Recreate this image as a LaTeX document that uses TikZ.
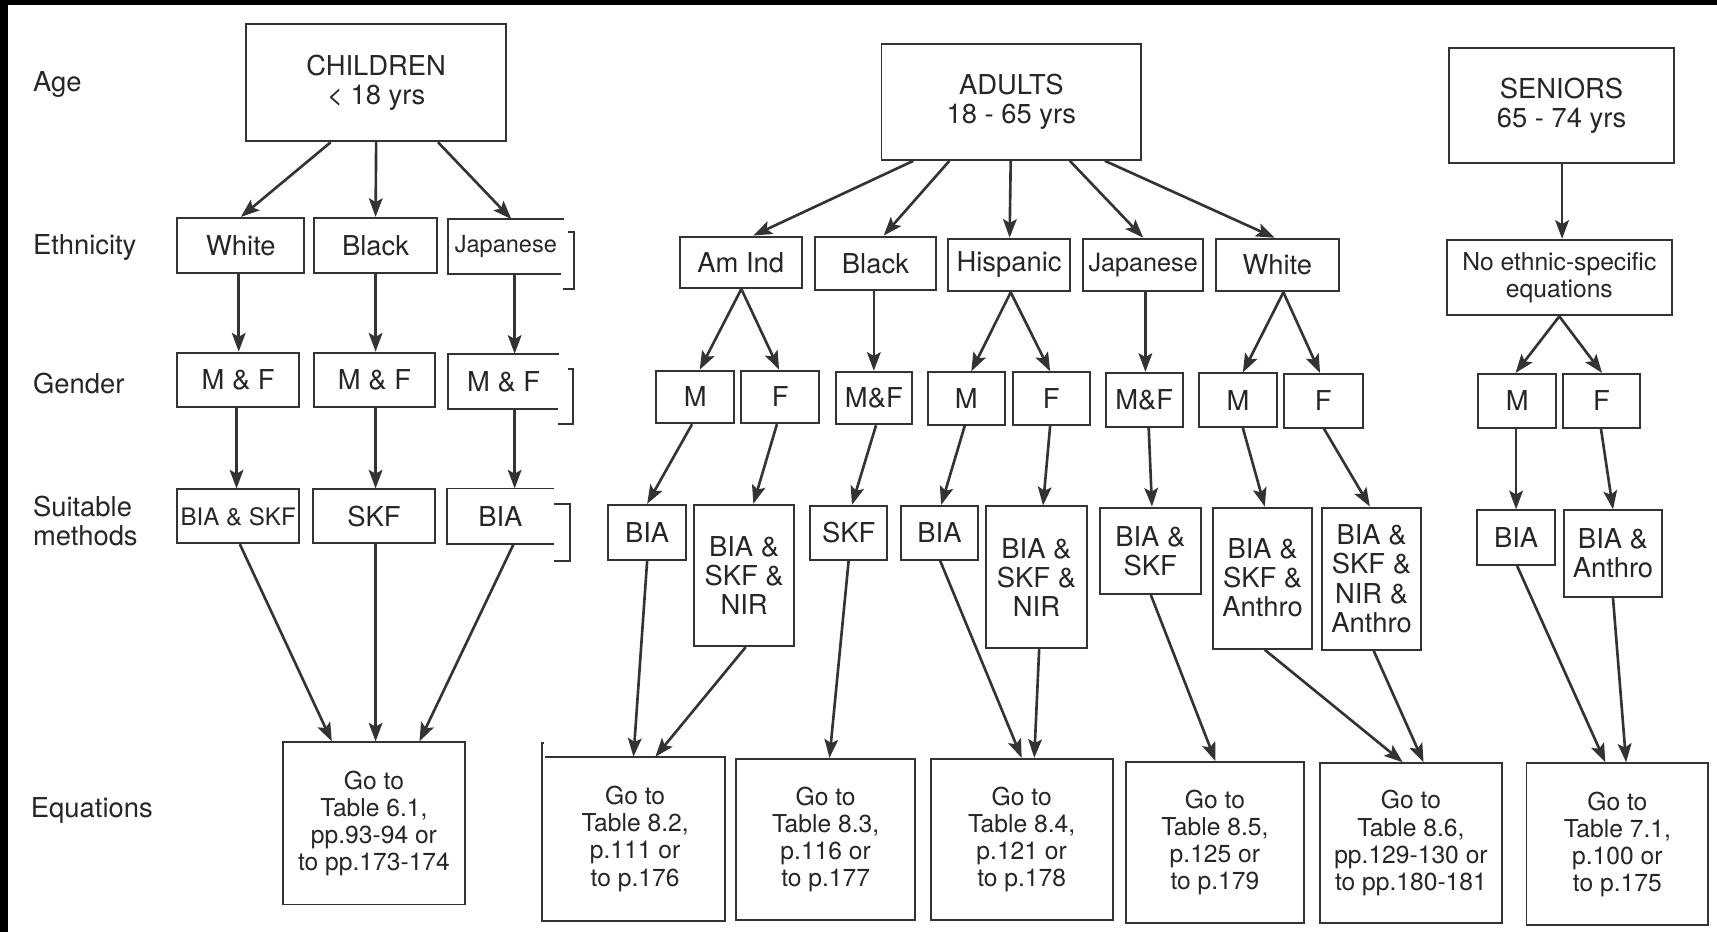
\documentclass[tikz,border=0pt]{standalone}
\usepackage{fontspec}
\setmainfont{TeX Gyre Heros}
\usetikzlibrary{arrows.meta}

\begin{document}
\begin{tikzpicture}[x=1pt, y=-1pt, >={Stealth[length=17pt,width=12.5pt,inset=3.5pt]},
    box/.style={draw=black!80, line width=1.8pt, align=center, inner sep=0pt, text=black!85, font=\fontsize{25}{26.5}\selectfont},
    nobox/.style={box, draw=none},
    eqbox/.style={box, font=\fontsize{22.5}{24.8}\selectfont},
    lbl/.style={anchor=west, align=left, inner sep=0pt, text=black!85, font=\fontsize{25}{26.5}\selectfont},
    arr/.style={->, draw=black!80, line width=2.4pt},
    edge/.style={draw=black!80, line width=1.8pt}]
    \useasboundingbox (0,0) rectangle (1568,851);
    % scan border
    \fill (0,0) rectangle (1568,5);
    \fill (0,0) rectangle (7,851);
    % row labels
    \node[lbl] (lage) at (30,77) {Age};
    \node[lbl] (leth) at (30,226) {Ethnicity};
    \node[lbl] (lgen) at (30,350) {Gender};
    \node[lbl] (lmet) at (30,476) {Suitable\\methods};
    \node[lbl] (lequ) at (28,740) {Equations};

    % children
    \node[box, minimum width=237, minimum height=107] (chd) at (343.5,75.5) {CHILDREN\\< 18 yrs};
    \node[box, minimum width=116, minimum height=50] (cwhi) at (220,224) {White};
    \node[box, minimum width=112, minimum height=50] (cbla) at (343,224) {Black};
    \node[nobox, minimum width=104, minimum height=48, font=\fontsize{21.5}{24}\selectfont] (cjap) at (462,225) {Japanese};
    \node[box, minimum width=111, minimum height=50] (cgwh) at (217.5,347) {M \& F};
    \node[box, minimum width=110, minimum height=50] (cgbl) at (342,347) {M \& F};
    \node[nobox, minimum width=100, minimum height=49] (cgja) at (460,348.5) {M \& F};
    \node[box, minimum width=111, minimum height=49, font=\fontsize{22}{24}\selectfont] (cmwh) at (217.5,471.5) {BIA \& SKF};
    \node[box, minimum width=111, minimum height=49] (cmbl) at (341.5,471.5) {SKF};
    \node[nobox, minimum width=96, minimum height=49] (cmja) at (457,471.5) {BIA};
    \node[eqbox, minimum width=167, minimum height=148] (ceq) at (341.5,752) {Go to\\Table 6.1,\\pp.93-94 or\\to pp.173-174};
    % open boxes of the Japanese column
    \draw[edge] (cjap.north east) -- (cjap.north west) -- (cjap.south west) -- ([xshift=-3pt]cjap.south east);
    \draw[edge] ([xshift=4pt,yshift=-12pt]cjap.north east) -- ([xshift=9pt,yshift=-12pt]cjap.north east)
        -- ([xshift=9pt,yshift=-14pt]cjap.south east) -- ([xshift=-1pt,yshift=-14pt]cjap.south east);
    \draw[edge] (cgja.north east) -- (cgja.north west) -- (cgja.south west) -- ([xshift=-1pt]cgja.south east);
    \draw[edge] ([xshift=8pt,yshift=-14pt]cgja.north east) -- ([xshift=12pt,yshift=-14pt]cgja.north east)
        -- ([xshift=12pt,yshift=-13pt]cgja.south east) -- ([xshift=-1pt,yshift=-13pt]cgja.south east);
    \draw[edge] (cmja.north east) -- (cmja.north west) -- (cmja.south west) -- (cmja.south east);
    \draw[edge] ([yshift=-14pt]cmja.north east) -- ([xshift=15pt,yshift=-14pt]cmja.north east)
        -- ([xshift=15pt,yshift=-15pt]cmja.south east) -- ([yshift=-15pt]cmja.south east);
    % children arrows
    \draw[arr] ([xshift=-41.5pt]chd.south) -- (cwhi.north);
    \draw[arr] (chd.south) -- (cbla.north);
    \draw[arr] ([xshift=56.5pt]chd.south) -- ([xshift=5pt]cjap.north);
    \draw[arr] ([xshift=-2pt]cwhi.south) -- ([xshift=0.5pt]cgwh.north);
    \draw[arr] (cbla.south) -- ([xshift=1pt]cgbl.north);
    \draw[arr] ([xshift=8pt]cjap.south) -- ([xshift=10pt]cgja.north);
    \draw[arr] ([xshift=-1.5pt]cgwh.south) -- ([xshift=-1.5pt]cmwh.north);
    \draw[arr] ([xshift=1pt]cgbl.south) -- ([xshift=1.5pt]cmbl.north);
    \draw[arr] ([xshift=10pt]cgja.south) -- ([xshift=13pt]cmja.north);
    \draw[arr] ([xshift=1.5pt]cmwh.south) -- ([xshift=-38.5pt]ceq.north);
    \draw[arr] ([xshift=1.5pt]cmbl.south) -- ([xshift=1.5pt]ceq.north);
    \draw[arr] ([xshift=12pt]cmja.south) -- ([xshift=41.5pt]ceq.north);

    % adults
    \node[box, minimum width=237, minimum height=106] (adu) at (923.5,93) {ADULTS\\18 - 65 yrs};
    \node[box, minimum width=111, minimum height=47] (aaid) at (676.5,239.5) {Am Ind};
    \node[box, minimum width=111, minimum height=49] (abla) at (799.5,240.5) {Black};
    \node[box, minimum width=111, minimum height=48] (ahis) at (921.5,242) {Hispanic};
    \node[box, minimum width=110, minimum height=48, font=\fontsize{23}{25}\selectfont] (ajap) at (1044,242) {Japanese};
    \node[box, minimum width=112, minimum height=48] (awhi) at (1166.5,242) {White};
    \node[box, minimum width=71, minimum height=48] (gaim) at (635,362.5) {M};
    \node[box, minimum width=71, minimum height=48] (gaif) at (712.5,362.5) {F};
    \node[box, minimum width=70, minimum height=48] (gbla) at (798,363.5) {M\&F};
    \node[box, minimum width=70, minimum height=48] (ghim) at (882.5,364) {M};
    \node[box, minimum width=70, minimum height=48] (ghif) at (960,364) {F};
    \node[box, minimum width=70, minimum height=49] (gjap) at (1045,365) {M\&F};
    \node[box, minimum width=71, minimum height=49] (gwhm) at (1130.5,365.5) {M};
    \node[box, minimum width=72, minimum height=49] (gwhf) at (1208.5,366) {F};
    \node[box, minimum width=71, minimum height=50] (maim) at (591,486) {BIA};
    \node[box, minimum width=91, minimum height=129] (maif) at (679.5,525.5) {BIA \&\\SKF \&\\NIR};
    \node[box, minimum width=70, minimum height=49] (mbla) at (775,486.5) {SKF};
    \node[box, minimum width=71, minimum height=49] (mhim) at (858,486.5) {BIA};
    \node[box, minimum width=93, minimum height=129] (mhif) at (946.5,527) {BIA \&\\SKF \&\\NIR};
    \node[box, minimum width=92, minimum height=79] (mjap) at (1050.5,503) {BIA \&\\SKF};
    \node[box, minimum width=90, minimum height=129] (mwhm) at (1153,528) {BIA \&\\SKF \&\\Anthro};
    \node[box, minimum width=91, minimum height=130] (mwhf) at (1252.5,528.5) {BIA \&\\SKF \&\\NIR \&\\Anthro};
    \node[nobox, eqbox, draw=none, minimum width=162, minimum height=148] (e82) at (580,766) {Go to\\Table 8.2,\\p.111 or\\to p.176};
    \node[eqbox, minimum width=164, minimum height=147] (e83) at (754,766.5) {Go to\\Table 8.3,\\p.116 or\\to p.177};
    \node[eqbox, minimum width=166, minimum height=147] (e84) at (933,766.5) {Go to\\Table 8.4,\\p.121 or\\to p.178};
    \node[eqbox, minimum width=163, minimum height=147] (e85) at (1109.5,769.5) {Go to\\Table 8.5,\\p.125 or\\to p.179};
    \node[eqbox, minimum width=167, minimum height=146] (e86) at (1288.5,770) {Go to\\Table 8.6,\\pp.129-130 or\\to pp.180-181};
    % box with shifted left edge
    \draw[edge] (e82.north west) -- (e82.north east) -- (e82.south east) -- ([xshift=-3pt]e82.south west)
        -- ([xshift=-3pt,yshift=13pt]e82.north west) -- ([xshift=-1pt,yshift=13pt]e82.north west);
    % adult arrows
    \draw[arr] ([xshift=-89.5pt]adu.south) -- ([xshift=11.5pt]aaid.north);
    \draw[arr] ([xshift=-56.5pt]adu.south) -- ([xshift=7.5pt]abla.north);
    \draw[arr] ([xshift=-0.5pt]adu.south) -- ([xshift=0.5pt]ahis.north);
    \draw[arr] ([xshift=53.5pt]adu.south) -- (ajap.north);
    \draw[arr] ([xshift=85.5pt]adu.south) -- ([xshift=-2.5pt]awhi.north);
    \draw[arr] ([xshift=0.5pt]aaid.south) -- ([xshift=4pt]gaim.north);
    \draw[arr] ([xshift=0.5pt]aaid.south) -- ([xshift=-1pt]gaif.north);
    \draw[arr] ([xshift=-1.5pt]abla.south) -- (gbla.north);
    \draw[arr] ([xshift=1.5pt]ahis.south) -- ([xshift=4.5pt]ghim.north);
    \draw[arr] ([xshift=1.5pt]ahis.south) -- ([xshift=-1pt]ghif.north);
    \draw[arr] ([xshift=2pt]ajap.south) -- ([xshift=1pt]gjap.north);
    \draw[arr] ([xshift=5.5pt]awhi.south) -- ([xshift=4.5pt]gwhm.north);
    \draw[arr] ([xshift=5.5pt]awhi.south) -- ([xshift=-3pt]gwhf.north);
    \draw[arr] ([xshift=-3pt]gaim.south) -- (maim.north);
    \draw[arr] ([xshift=-3pt]gaif.south) -- ([xshift=8.5pt]maif.north);
    \draw[arr] ([xshift=2pt]gbla.south) -- ([xshift=3pt]mbla.north);
    \draw[arr] ([xshift=-1.5pt]ghim.south) -- ([xshift=1.5pt]mhim.north);
    \draw[arr] ([xshift=-1pt]ghif.south) -- ([xshift=6pt]mhif.north);
    \draw[arr] ([xshift=4pt]gjap.south) -- ([xshift=1.5pt]mjap.north);
    \draw[arr] ([xshift=4.5pt]gwhm.south) -- ([xshift=2pt]mwhm.north);
    \draw[arr] ([xshift=0.5pt]gwhf.south) -- ([xshift=-1.5pt]mwhf.north);
    \draw[arr] (maim.south) -- ([xshift=-1.5pt]e82.north);
    \draw[arr] ([xshift=1.5pt]maif.south) -- ([xshift=18.5pt]e82.north);
    \draw[arr] (mbla.south) -- ([xshift=3.5pt]e83.north);
    \draw[arr] ([xshift=0.5pt]mhim.south) -- (e84.north);
    \draw[arr] ([xshift=2.5pt]mhif.south) -- ([xshift=11.5pt]e84.north);
    \draw[arr] ([xshift=0.5pt]mjap.south) -- ([xshift=0.5pt]e85.north);
    \draw[arr] ([xshift=2pt]mwhm.south) -- ([xshift=-7.5pt]e86.north);
    \draw[arr] ([xshift=2pt]mwhf.south) -- ([xshift=11.5pt]e86.north);

    % seniors
    \node[box, minimum width=206, minimum height=105] (sen) at (1426,96.5) {SENIORS\\65 - 74 yrs};
    \node[box, minimum width=206, minimum height=69, font=\fontsize{22.5}{24}\selectfont] (snoe) at (1424,253.5) {No ethnic-specific\\equations};
    \node[box, minimum width=71, minimum height=49] (gsm) at (1385.5,366) {M};
    \node[box, minimum width=71, minimum height=49] (gsf) at (1462.5,366) {F};
    \node[box, minimum width=71, minimum height=50] (msm) at (1384.5,491) {BIA};
    \node[box, minimum width=90, minimum height=79] (msf) at (1473,505.5) {BIA \&\\Anthro};
    \node[eqbox, minimum width=166, minimum height=148] (e71) at (1477,771) {Go to\\Table 7.1,\\p.100 or\\to p.175};
    % seniors arrows
    \draw[arr] ([xshift=0.5pt]sen.south) -- ([xshift=2.5pt]snoe.north);
    \draw[arr] (snoe.south) -- ([xshift=-1.5pt]gsm.north);
    \draw[arr] (snoe.south) -- ([xshift=0.5pt]gsf.north);
    \draw[arr] ([xshift=-1pt]gsm.south) -- (msm.north);
    \draw[arr] ([xshift=-0.5pt]gsf.south) -- (msf.north);
    \draw[arr] ([xshift=1pt]msm.south) -- ([xshift=-11pt]e71.north);
    \draw[arr] (msf.south) -- ([xshift=8pt]e71.north);
\end{tikzpicture}
\end{document}
